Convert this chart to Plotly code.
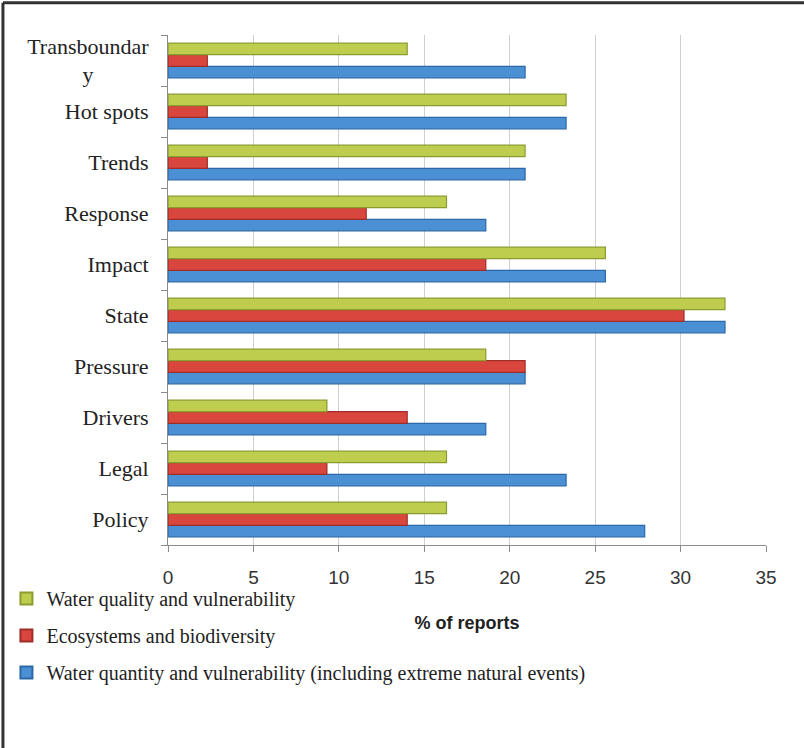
import plotly.graph_objects as go

categories = ["Policy", "Legal", "Drivers", "Pressure", "State", "Impact",
              "Response", "Trends", "Hot spots", "Transboundary"]
tick_labels = ["Policy", "Legal", "Drivers", "Pressure", "State", "Impact",
               "Response", "Trends", "Hot spots",
               "Transboundar<br>y" + "\u00a0" * 10]

water_quantity = [27.9, 23.3, 18.6, 20.9, 32.6, 25.6, 18.6, 20.9, 23.3, 20.9]
ecosystems = [14.0, 9.3, 14.0, 20.9, 30.2, 18.6, 11.6, 2.3, 2.3, 2.3]
water_quality = [16.3, 16.3, 9.3, 18.6, 32.6, 25.6, 16.3, 20.9, 23.3, 14.0]

series = [
    ("Water quantity and vulnerability (including extreme natural events)",
     water_quantity, "#4B90D4", "#2C68A8", 3),
    ("Ecosystems and biodiversity", ecosystems, "#D9463E", "#A02D27", 2),
    ("Water quality and vulnerability", water_quality, "#BECD4E", "#8C9C2E", 1),
]

fig = go.Figure()
for i, (name, vals, col, edge, rank) in enumerate(series):
    fig.add_trace(go.Bar(
        y=categories, x=vals, orientation="h", name=name,
        legendgroup=str(i), legendrank=rank,
        marker=dict(color=col, line=dict(color=edge, width=1.2)),
    ))

serif = "Liberation Serif"
sans = "Liberation Sans"

fig.update_layout(
    width=804, height=748,
    margin=dict(l=168, r=38, t=35, b=203, autoexpand=False),
    plot_bgcolor="white", paper_bgcolor="white",
    barmode="group", bargap=0.32, bargroupgap=0,
    showlegend=True,
    legend=dict(
        traceorder="grouped", tracegroupgap=8,
        xref="container", yref="container",
        x=0.008, y=0.226, xanchor="left", yanchor="top",
        font=dict(family=serif, size=20, color="#222"),
        itemwidth=30, itemsizing="constant",
        bgcolor="rgba(0,0,0,0)",
    ),
    xaxis=dict(
        range=[0, 35], dtick=5, tick0=0,
        showgrid=True, gridcolor="#CFCFCF", gridwidth=1,
        showline=True, linecolor="#8C8C8C", linewidth=1,
        ticks="outside", ticklen=6, tickcolor="#8C8C8C",
        tickfont=dict(family=sans, size=19, color="#333"),
        ticklabelstandoff=9,
        zeroline=False,
        title=dict(text="<b>% of reports</b>",
                   font=dict(family=sans, size=18, color="#222"),
                   standoff=29),
    ),
    yaxis=dict(
        type="category", categoryorder="array", categoryarray=categories,
        tickvals=categories, ticktext=tick_labels,
        tickson="boundaries",
        showline=True, linecolor="#8C8C8C", linewidth=1,
        ticks="outside", ticklen=6, tickcolor="#8C8C8C",
        tickfont=dict(family=serif, size=22, color="#222"),
        ticklabelstandoff=14,
        showgrid=False,
    ),
    shapes=[
        dict(type="line", xref="paper", yref="paper",
             x0=-0.276, x1=1.1, y0=1.063, y1=1.063,
             line=dict(color="#333", width=3)),
        dict(type="line", xref="paper", yref="paper",
             x0=-0.276, x1=-0.276, y0=1.063, y1=-0.45,
             line=dict(color="#333", width=3)),
    ],
)

fig.write_html("out.html", config={"displayModeBar": False},
               post_script="document.body.style.margin='0';")
